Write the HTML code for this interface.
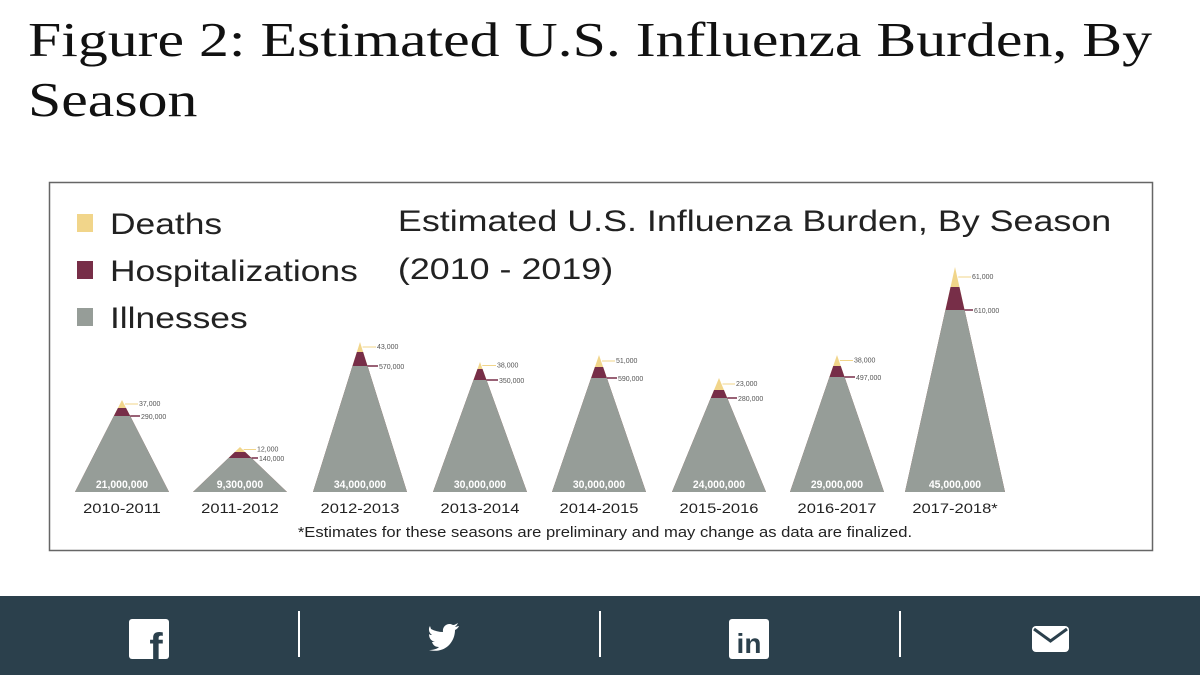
<!DOCTYPE html>
<html><head><meta charset="utf-8"><style>
body{margin:0;width:1200px;height:675px;background:#fff;overflow:hidden;position:relative;font-family:"Liberation Sans",sans-serif}
.t{position:absolute;left:28px;top:10px;font-family:"Liberation Serif",serif;font-size:49px;line-height:60px;color:#111;transform:scaleX(1.22);transform-origin:0 0;white-space:nowrap}
.foot{position:absolute;left:0;top:596px;width:1200px;height:79px;background:#2b404c}
.sep{position:absolute;top:15px;width:2px;height:46px;background:#fff}
</style></head><body>
<div class="t">Figure 2: Estimated U.S. Influenza Burden, By<br>Season</div>
<svg width="1200" height="596" style="position:absolute;left:0;top:0" id="s">
<rect x="49.5" y="182.5" width="1103" height="368" fill="#fff" stroke="#666" stroke-width="1.5"/>
<rect x="77" y="214" width="16" height="18" fill="#f1d58a"/>
<rect x="77" y="261" width="16" height="18" fill="#772e48"/>
<rect x="77" y="308" width="16" height="18" fill="#969d98"/>
<g font-size="30" fill="#222" transform="scale(1.18,1)">
<text x="93.2" y="234">Deaths</text>
<text x="93.2" y="281">Hospitalizations</text>
<text x="93.2" y="328">Illnesses</text>
</g>
<g font-size="30" fill="#222" transform="scale(1.195,1)">
<text x="333" y="231">Estimated U.S. Influenza Burden, By Season</text>
<text x="333" y="279">(2010 - 2019)</text>
</g>
<g id="g"></g>
<text x="605" y="537" font-size="14.5" fill="#222" text-anchor="middle" transform="translate(605,0) scale(1.145,1) translate(-605,0)">*Estimates for these seasons are preliminary and may change as data are finalized.</text>
</svg>
<div class="foot">
<div class="sep" style="left:298px"></div><div class="sep" style="left:599px"></div><div class="sep" style="left:899px"></div>
<svg width="1200" height="79" style="position:absolute;left:0;top:0">
<rect x="129" y="23" width="40" height="40" rx="3" fill="#fff"/>
<text x="156" y="65" font-size="40" font-weight="bold" fill="#2b404c" text-anchor="middle">f</text>
<path d="M431 33c4 2 8 3 12 3c-1-6 5-10 10-7c2 0 3-1 5-2c-1 2-2 3-3 4c1 0 3-1 4-1c-1 2-2 3-4 4c0 12-10 24-26 20c4 0 8-1 10-3c-4 0-6-2-7-5h3c-4-1-6-4-6-8c1 1 2 1 3 1c-3-2-4-6-2-9z" fill="#fff"/>
<rect x="729" y="23" width="40" height="40" rx="3" fill="#fff"/>
<text x="749" y="57" font-size="28" font-weight="bold" fill="#2b404c" text-anchor="middle">in</text>
<rect x="1032" y="30" width="37" height="26" rx="4" fill="#fff"/>
<path d="M1034 33l16.5 12l16.5-12" stroke="#2b404c" stroke-width="3" fill="none"/>
</svg>
</div>
<script>
var d=[[122,400,408,416,"37,000","290,000","21,000,000","2010-2011",47],
[240,447,452,458,"12,000","140,000","9,300,000","2011-2012",47],
[360,342,352,366,"43,000","570,000","34,000,000","2012-2013",47],
[480,362,369,380,"38,000","350,000","30,000,000","2013-2014",47],
[599,355,367,378,"51,000","590,000","30,000,000","2014-2015",47],
[719,378,390,398,"23,000","280,000","24,000,000","2015-2016",47],
[837,355,366,377,"38,000","497,000","29,000,000","2016-2017",47],
[955,267,287,310,"61,000","610,000","45,000,000","2017-2018*",50]];
var B=492,h="";
d.forEach(function(r){var c=r[0],t=r[1],w=r[8];
function hw(y){return w*(y-t)/(B-t);}
function tri(y0,col){var a=hw(y0);return '<polygon fill="'+col+'" points="'+(c-a)+','+y0+' '+(c+a)+','+y0+' '+(c+w)+','+B+' '+(c-w)+','+B+'"/>';}
h+='<polygon fill="#f1d58a" points="'+c+','+t+' '+(c+w)+','+B+' '+(c-w)+','+B+'"/>';
h+=tri(r[2],"#772e48");h+=tri(r[3],"#969d98");
var yd=(t+r[2])/2,yh=r[3];
h+='<line x1="'+(c+hw(yd)+1)+'" y1="'+yd+'" x2="'+(c+16)+'" y2="'+yd+'" stroke="#f1d58a"/>';
h+='<line x1="'+(c+hw(yh))+'" y1="'+yh+'" x2="'+(c+18)+'" y2="'+yh+'" stroke="#772e48" stroke-width="1.5"/>';
h+='<text x="'+(c+17)+'" y="'+(yd+2)+'" font-size="7" fill="#555">'+r[4]+'</text>';
h+='<text x="'+(c+19)+'" y="'+(yh+3)+'" font-size="7" fill="#555">'+r[5]+'</text>';
h+='<text x="'+c+'" y="488" font-size="11" font-weight="bold" fill="#fff" text-anchor="middle" transform="translate('+c+',0) scale(0.95,1) translate('+(-c)+',0)">'+r[6]+'</text>';
h+='<text x="'+c+'" y="513" font-size="14" fill="#222" text-anchor="middle" transform="translate('+c+',0) scale(1.18,1) translate('+(-c)+',0)">'+r[7]+'</text>';});
document.getElementById("g").innerHTML=h;
</script>
</body></html>
